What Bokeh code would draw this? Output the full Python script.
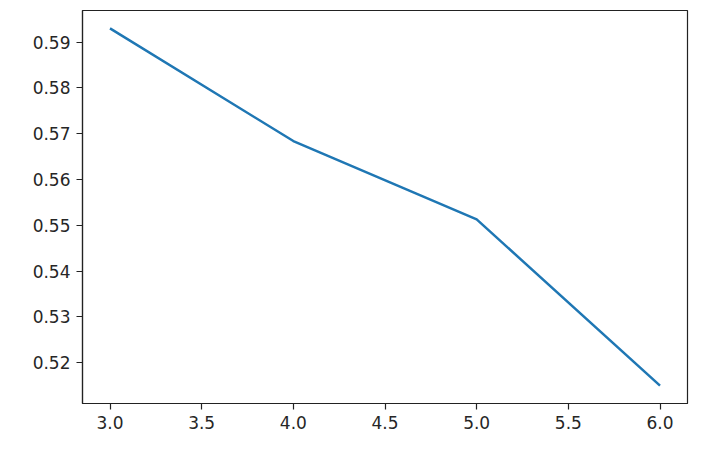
from bokeh.plotting import figure
from bokeh.models import Range1d, FixedTicker
from bokeh.embed import file_html
from bokeh.resources import INLINE

x_vals = [3, 4, 5, 6]
y_vals = [0.593, 0.5684, 0.5513, 0.515]
x_ticks = [3.0, 3.5, 4.0, 4.5, 5.0, 5.5, 6.0]
y_ticks = [0.52, 0.53, 0.54, 0.55, 0.56, 0.57, 0.58, 0.59]

xpad = (max(x_vals) - min(x_vals)) * 0.05
ypad = (max(y_vals) - min(y_vals)) * 0.05

p = figure(width=703, height=448, output_backend="svg", toolbar_location=None,
           x_range=Range1d(min(x_vals) - xpad, max(x_vals) + xpad),
           y_range=Range1d(min(y_vals) - ypad, max(y_vals) + ypad),
           min_border_left=82, min_border_top=10, min_border_right=16, min_border_bottom=45)
p.frame_width = 605
p.frame_height = 393

p.line(x_vals, y_vals, line_color="#1f77b4", line_width=2.5)

p.xgrid.visible = False
p.ygrid.visible = False
p.outline_line_color = "#222222"
p.outline_line_width = 1.2
p.outline_line_alpha = 1.0

for ax in (p.xaxis[0], p.yaxis[0]):
    ax.axis_line_color = "#222222"
    ax.axis_line_width = 1.2
    ax.major_tick_line_color = "#222222"
    ax.major_tick_line_width = 1.2
    ax.major_tick_out = 6
    ax.major_tick_in = 0
    ax.minor_tick_line_color = None
    ax.major_label_text_font = "DejaVu Sans"
    ax.major_label_text_font_size = "17px"
    ax.major_label_text_color = "#262626"
    ax.major_label_standoff = 6

p.xaxis[0].ticker = FixedTicker(ticks=x_ticks)
p.yaxis[0].ticker = FixedTicker(ticks=y_ticks)
p.xaxis[0].major_label_overrides = {t: f"{t:.1f}" for t in x_ticks}
p.yaxis[0].major_label_overrides = {t: f"{t:.2f}" for t in y_ticks}

open("out.html", "w").write(file_html(p, INLINE))
